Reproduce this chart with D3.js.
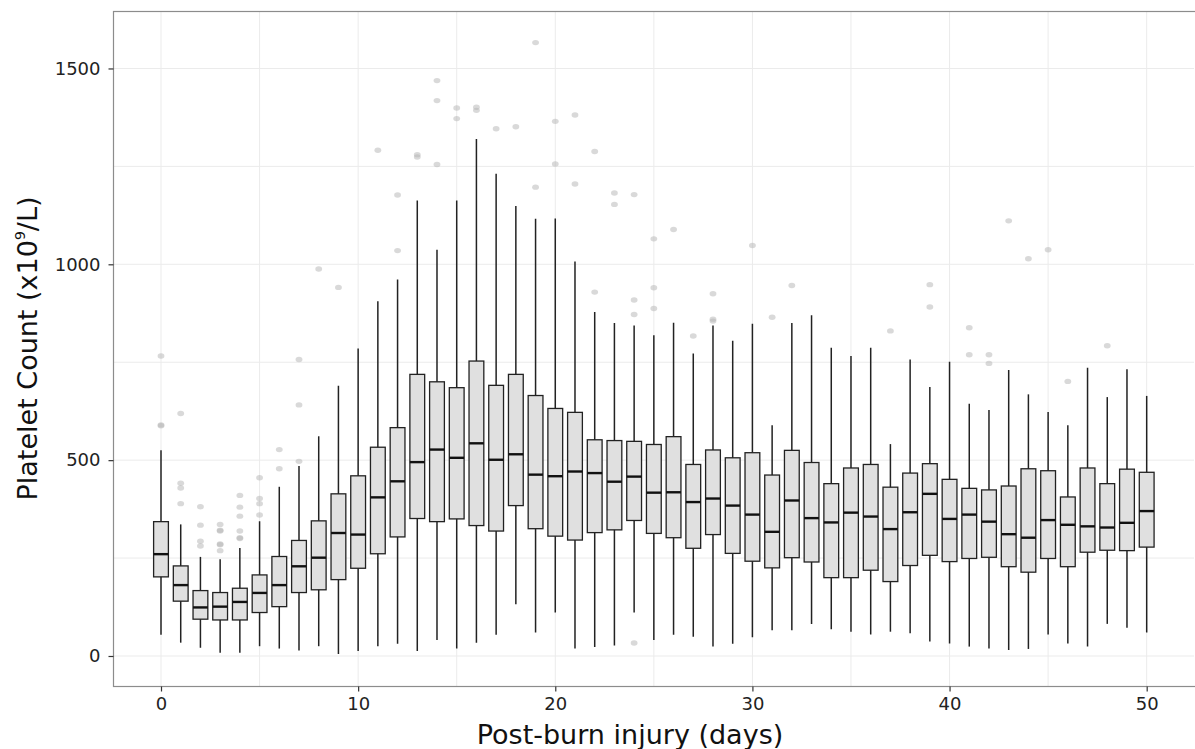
<!DOCTYPE html>
<html lang="en">
<head>
<meta charset="utf-8">
<title>Platelet count by post-burn day</title>
<script src="https://d3js.org/d3.v7.min.js"></script>
<style>
  body, html { margin: 0; padding: 0; background: #fff; }
  text { font-family: "DejaVu Sans", Verdana, sans-serif; }
</style>
</head>
<body>
<div id="chart"></div>
<script>
// box statistics per day
var days = d3.range(0, 51)
var whiskerLow = [54,34,21,8,8,25,19,14,25,5,13,25,31,13,41,19,34,54,132,60,111,19,23,27,111,41,54,49,24,31,48,66,66,82,68,62,55,62,58,37,32,24,19,15,18,55,32,24,82,72,60]
var q1 = [202,140,94,92,92,111,126,162,169,195,224,261,304,351,343,350,333,319,384,325,306,296,315,322,346,313,302,275,310,262,242,225,251,240,200,200,219,190,231,257,241,249,252,228,214,249,228,265,270,269,278]
var median = [260,181,124,126,138,161,181,229,251,314,310,405,446,495,527,506,543,501,515,463,459,471,467,445,458,417,418,393,402,384,361,317,397,352,341,366,356,324,367,414,350,361,343,311,302,347,335,331,328,340,370]
var q3 = [343,230,167,162,173,207,254,295,345,414,460,533,583,719,700,685,753,691,719,665,632,622,552,550,548,540,560,489,526,506,519,462,525,494,440,480,489,431,467,491,451,428,424,434,478,473,406,480,440,477,469]
var whiskerHigh = [525,336,253,247,276,344,432,485,561,690,785,906,961,1163,1037,1163,1320,1231,1149,1116,1117,1007,878,850,844,819,851,772,844,805,848,589,850,870,787,766,787,541,757,687,751,644,628,730,668,623,589,736,661,732,664]
var outliers = [
  [588,590,766], [389,429,441,619], [281,293,334,381], [269,284,286,319,321,336],
  [300,302,319,357,380,410], [360,389,402,455], [478,527], [497,641,757], [988], [941],
  [], [1291], [1035,1177], [1274,1280], [1255,1418,1469], [1372,1399], [1393,1401],
  [1346], [1351], [1197,1566], [1256,1365], [1205,1381], [929,1288], [1153,1182],
  [33,872,909,1178], [887,940,1065], [1089], [817], [855,860,925], [], [1048], [865],
  [946], [], [], [], [], [830], [], [891,948], [], [769,838], [747,769], [1111], [1014],
  [1037], [701], [], [792], [], []
]
var xTicks = [0, 10, 20, 30, 40, 50]
var yTicks = [0, 500, 1000, 1500]

var W = 1195, H = 749
var panel = {left: 113, right: 1194, top: 11, bottom: 686}

var svg = d3.select("#chart").append("svg")
  .attr("width", W)
  .attr("height", H)

var x = d3.scaleLinear().domain([-2.435, 52.4]).range([panel.left, panel.right])
var y = d3.scaleLinear().domain([-76.6, 1646.7]).range([panel.bottom, panel.top])

// grid (major + minor look the same)
var gx = d3.range(0, 55, 5), gy = d3.range(0, 1750, 250)
svg.append("g").selectAll("line").data(gx).enter().append("line")
  .attr("x1", d => x(d)).attr("x2", d => x(d))
  .attr("y1", panel.top).attr("y2", panel.bottom)
  .attr("stroke", "#ebebeb").attr("stroke-width", 1)
svg.append("g").selectAll("line").data(gy).enter().append("line")
  .attr("x1", panel.left).attr("x2", panel.right)
  .attr("y1", d => y(d)).attr("y2", d => y(d))
  .attr("stroke", "#ebebeb").attr("stroke-width", 1)

var bw = 0.75
var boxes = svg.append("g")
days.forEach(function(d, i) {
  // outliers
  boxes.selectAll(null).data(outliers[i]).enter().append("ellipse")
    .attr("cx", x(d)).attr("cy", v => y(v))
    .attr("rx", 3.4).attr("ry", 2.7)
    .attr("fill", "#b4b4b4").attr("fill-opacity", 0.5)
  // whisker
  boxes.append("line")
    .attr("x1", x(d)).attr("x2", x(d))
    .attr("y1", y(whiskerLow[i])).attr("y2", y(whiskerHigh[i]))
    .attr("stroke", "#222").attr("stroke-width", 1.5)
  // box
  boxes.append("rect")
    .attr("x", x(d - bw / 2)).attr("width", x(d + bw / 2) - x(d - bw / 2))
    .attr("y", y(q3[i])).attr("height", y(q1[i]) - y(q3[i]))
    .attr("fill", "#e0e0e0").attr("stroke", "#222").attr("stroke-width", 1.3)
  // median
  boxes.append("line")
    .attr("x1", x(d - bw / 2)).attr("x2", x(d + bw / 2))
    .attr("y1", y(median[i])).attr("y2", y(median[i]))
    .attr("stroke", "#111").attr("stroke-width", 2.4)
})

// panel border
svg.append("rect")
  .attr("x", panel.left + 0.5).attr("y", panel.top + 0.5)
  .attr("width", panel.right - panel.left + 10).attr("height", panel.bottom - panel.top)
  .attr("fill", "none").attr("stroke", "#8c8c8c").attr("stroke-width", 1.2)

// axes
var xAxis = svg.append("g")
  .attr("transform", "translate(0," + (panel.bottom + 0.5) + ")")
  .call(d3.axisBottom(x).tickValues(xTicks).tickFormat(d3.format("d")).tickSize(5).tickPadding(6))
var yAxis = svg.append("g")
  .attr("transform", "translate(" + (panel.left + 0.5) + ",0)")
  .call(d3.axisLeft(y).tickValues(yTicks).tickFormat(d3.format("d")).tickSize(5).tickPadding(8))
;[xAxis, yAxis].forEach(function(a) {
  a.select(".domain").remove()
  a.selectAll(".tick line").attr("stroke", "#333").attr("stroke-width", 1.2)
  a.selectAll(".tick text").attr("fill", "#222").style("font-size", "18px")
    .style("font-family", "DejaVu Sans")
})

// axis titles
svg.append("text")
  .attr("x", 630).attr("y", 744)
  .attr("text-anchor", "middle")
  .attr("fill", "#111")
  .style("font-size", "27px")
  .text("Post-burn injury (days)")

var yt = svg.append("text")
  .attr("transform", "translate(37," + ((panel.top + panel.bottom) / 2) + ") rotate(-90)")
  .attr("text-anchor", "middle")
  .attr("fill", "#111")
  .style("font-size", "27px")
yt.append("tspan").text("Platelet Count (x10")
yt.append("tspan").text("9").style("font-size", "14px").attr("dy", -12)
yt.append("tspan").text("/L)").attr("dy", 12)
</script>
</body>
</html>
